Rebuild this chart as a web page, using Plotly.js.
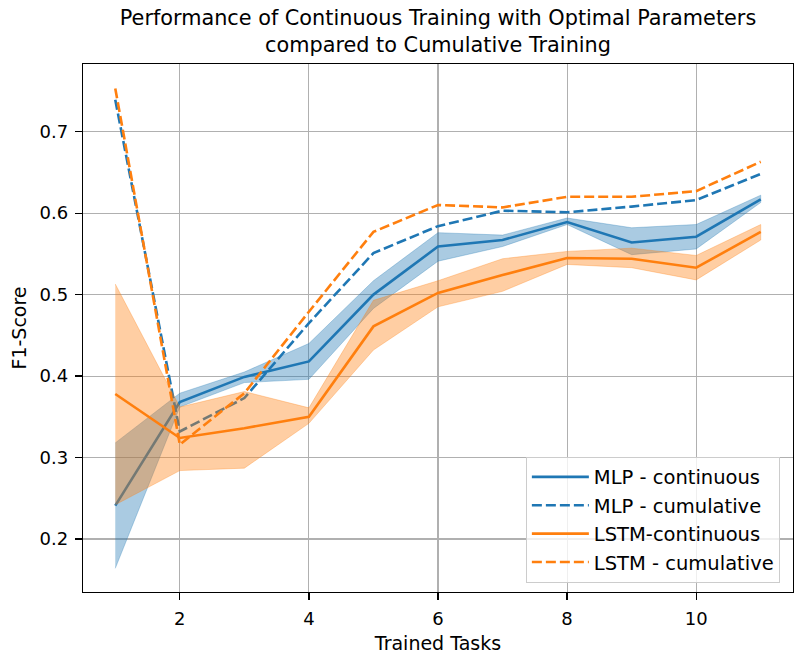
<!DOCTYPE html>
<html>
<head>
<meta charset="utf-8">
<script src="https://cdn.plot.ly/plotly-3.0.1.min.js"></script>
<style>
html,body{margin:0;padding:0;background:#fff;}
#chart{width:803px;height:654px;}
</style>
</head>
<body>
<div id="chart"></div>
<script>
// ---- data ----
const tasks = [1, 2, 3, 4, 5, 6, 7, 8, 9, 10, 11];

const mlpContinuous     = [0.241, 0.368, 0.399, 0.418, 0.500, 0.559, 0.567, 0.589, 0.564, 0.571, 0.617];
const mlpContinuousLow  = [0.164, 0.362, 0.392, 0.396, 0.483, 0.541, 0.559, 0.586, 0.549, 0.556, 0.613];
const mlpContinuousHigh = [0.318, 0.379, 0.405, 0.440, 0.517, 0.576, 0.573, 0.594, 0.582, 0.586, 0.622];
const mlpCumulative     = [0.739, 0.332, 0.373, 0.465, 0.551, 0.584, 0.603, 0.601, 0.608, 0.616, 0.648];

const lstmContinuous     = [0.378, 0.324, 0.336, 0.350, 0.461, 0.502, 0.524, 0.545, 0.544, 0.533, 0.577];
const lstmContinuousLow  = [0.242, 0.284, 0.287, 0.342, 0.432, 0.485, 0.504, 0.537, 0.533, 0.518, 0.567];
const lstmContinuousHigh = [0.513, 0.362, 0.381, 0.361, 0.493, 0.517, 0.544, 0.553, 0.557, 0.548, 0.586];
const lstmCumulative     = [0.753, 0.316, 0.379, 0.479, 0.577, 0.610, 0.607, 0.620, 0.620, 0.627, 0.663];

const seriesNames = ["MLP - continuous", "MLP - cumulative", "LSTM-continuous", "LSTM - cumulative"];
const xTickVals = [2, 4, 6, 8, 10];
const yTickVals = [0.2, 0.3, 0.4, 0.5, 0.6, 0.7];

// ---- styling ----
const BLUE = "#1f77b4", ORANGE = "#ff7f0e";
const FONT = "DejaVu Sans, sans-serif";

function band(x, lo, hi, color) {
  return {
    x: x.concat(x.slice().reverse()),
    y: hi.concat(lo.slice().reverse()),
    type: "scatter", mode: "lines", fill: "toself",
    fillcolor: color, line: {width: 0.8, color: color},
    hoverinfo: "skip", showlegend: false
  };
}

const traces = [
  band(tasks, mlpContinuousLow, mlpContinuousHigh, "rgba(31,119,180,0.38)"),
  {x: tasks, y: mlpContinuous, type: "scatter", mode: "lines", name: seriesNames[0],
   line: {color: BLUE, width: 2.6}},
  {x: tasks, y: mlpCumulative, type: "scatter", mode: "lines", name: seriesNames[1],
   line: {color: BLUE, width: 2.6, dash: "10px,4px"}},
  band(tasks, lstmContinuousLow, lstmContinuousHigh, "rgba(255,127,14,0.38)"),
  {x: tasks, y: lstmContinuous, type: "scatter", mode: "lines", name: seriesNames[2],
   line: {color: ORANGE, width: 2.6}},
  {x: tasks, y: lstmCumulative, type: "scatter", mode: "lines", name: seriesNames[3],
   line: {color: ORANGE, width: 2.6, dash: "10px,4px"}}
];

const axisCommon = {
  showgrid: true, gridcolor: "#b0b0b0", gridwidth: 1.1,
  showline: true, linecolor: "#000", linewidth: 1.2, mirror: true,
  ticks: "outside", ticklen: 7, tickwidth: 1.2, tickcolor: "#000",
  zeroline: false, tickfont: {family: FONT, size: 18, color: "#000"},
  automargin: false
};

const layout = {
  width: 803, height: 654,
  margin: {l: 83, r: 10, t: 64, b: 62},
  paper_bgcolor: "#fff", plot_bgcolor: "#fff",
  font: {family: FONT, color: "#000"},
  title: {
    text: "Performance of Continuous Training with Optimal Parameters<br>compared to Cumulative Training",
    font: {family: FONT, size: 20.8, color: "#000"},
    x: 0.5455, xanchor: "center", yref: "container", y: 0.962, yanchor: "top"
  },
  xaxis: Object.assign({}, axisCommon, {
    range: [0.5, 11.5], tickvals: xTickVals, ticklabelstandoff: 3,
    title: {text: "Trained Tasks", font: {family: FONT, size: 19, color: "#000"}, standoff: 9}
  }),
  yaxis: Object.assign({}, axisCommon, {
    range: [0.135, 0.783], tickvals: yTickVals, tickformat: ".1f", ticklabelstandoff: 3,
    title: {text: "F1-Score", font: {family: FONT, size: 19, color: "#000"}, standoff: 8}
  }),
  legend: {
    x: 0.9815, y: 0.0176, xanchor: "right", yanchor: "bottom",
    bgcolor: "rgba(255,255,255,0.8)", bordercolor: "#cccccc", borderwidth: 1,
    itemwidth: 57,
    font: {family: FONT, size: 19.5, color: "#000"}
  },
  showlegend: true
};

Plotly.newPlot("chart", traces, layout, {staticPlot: true, displayModeBar: false});
</script>
</body>
</html>
